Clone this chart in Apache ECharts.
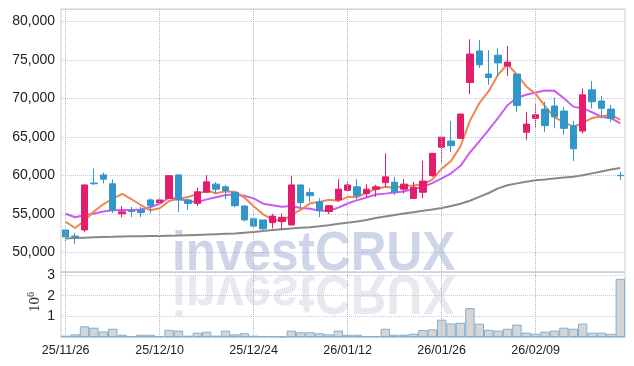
<!DOCTYPE html>
<html><head><meta charset="utf-8">
<script src="https://cdn.jsdelivr.net/npm/echarts@6/dist/echarts.min.js"></script>
<style>html,body{margin:0;padding:0;background:#fff}#c{width:634px;height:366px}</style>
</head><body><div id="c"></div>
<script>
const dates = ['25/11/26','25/11/27','25/11/28','25/12/01','25/12/02','25/12/03','25/12/04','25/12/05','25/12/08','25/12/09',
'25/12/10','25/12/11','25/12/12','25/12/15','25/12/16','25/12/17','25/12/18','25/12/19','25/12/22','25/12/23',
'25/12/24','25/12/26','25/12/29','25/12/30','26/01/02','26/01/05','26/01/06','26/01/07','26/01/08','26/01/09',
'26/01/12','26/01/13','26/01/14','26/01/15','26/01/16','26/01/19','26/01/20','26/01/21','26/01/22','26/01/23',
'26/01/26','26/01/27','26/01/28','26/01/29','26/01/30','26/02/02','26/02/03','26/02/04','26/02/05','26/02/06',
'26/02/09','26/02/10','26/02/11','26/02/12','26/02/13','26/02/19','26/02/20','26/02/23','26/02/24','26/02/25'];
const tickDates = ['25/11/26','25/12/10','25/12/24','26/01/12','26/01/26','26/02/09'];
const opens = [52900,52100,52900,59000,60050,58900,55000,55400,55500,56800,
56450,57000,60050,56800,56350,57800,58850,58500,57800,56000,
54350,54200,53850,54000,53550,58750,57750,56550,55300,56800,
58050,58500,57650,58200,59050,59100,58200,57000,57800,59950,
63650,64450,64800,72050,76150,73150,75600,74200,73150,65600,
67400,68600,69000,68350,66450,65750,71100,69650,68600,60000];
const closes = [52000,52000,58750,58900,59500,55500,55250,55300,55150,56050,
56800,59950,56800,56350,57850,59150,58200,58000,56050,54200,
53400,53050,54700,54550,58750,56450,57350,55500,56050,58200,
58750,57350,58200,58500,59800,57850,58850,58450,59250,62850,
64950,63850,67950,75750,74350,72700,74600,74700,69050,66650,
67850,66450,67600,66100,63450,70450,69550,68700,67400,59950];
const lows = [51400,51050,52600,58750,58950,55100,54550,54550,54550,55050,
56300,56900,55250,55500,56000,57700,57650,56900,55850,54000,
53250,52900,53100,52900,53500,55850,56550,54550,54950,56550,
57900,56900,57200,57200,58500,57450,57650,56950,57000,59800,
61650,63000,64750,70550,73950,71750,72800,72900,68250,64600,
66250,65600,66100,65300,61850,65450,68700,67400,66950,59400];
const highs = [53000,52550,58800,60900,60350,59450,56000,55900,55900,57000,
57000,60000,60050,57000,58400,60000,59100,58750,57850,56150,
54400,54200,55000,55050,59900,58750,58300,57000,56100,59500,
59150,59500,58850,58750,62850,59800,59500,59150,61900,62900,
65000,67050,68000,77650,77550,76250,76500,76800,73150,68250,
69250,69550,70100,68850,67050,71300,72250,70300,69150,60450];
const ma5 = [53970,53150,54100,55300,56230,56930,57580,56890,56140,55450,
55710,56650,56950,57190,57550,58020,57670,57910,57850,57120,
55970,54940,54280,53980,54890,55500,56360,56520,56820,56710,
57170,57170,57710,58200,58520,58340,58640,58690,58840,59450,
60870,61870,63770,67070,69370,70920,73070,74420,73080,71540,
70570,68940,67520,66930,66290,66810,67430,67650,67910,67210];
const ma10 = [55000,54550,54800,55050,55300,55450,55500,55500,55550,55840,
56320,57120,56920,56670,56500,56870,57160,57430,57520,57340,
57000,56310,56100,55920,56010,55740,55650,55400,55400,55800,
56340,56770,57120,57510,57620,57760,57910,58200,58520,58990,
59610,60260,61230,62960,64410,65900,67470,69100,70080,70460,
70750,71010,70970,70010,68920,68690,68190,67590,67420,66750];
const maLong = [51800,51850,51900,51950,52000,52020,52050,52070,52080,52100,
52120,52150,52180,52220,52260,52300,52350,52400,52450,52550,
52650,52750,52880,52980,53080,53180,53260,53380,53520,53700,
53850,54000,54200,54450,54650,54850,55050,55200,55400,55550,
55750,56000,56300,56700,57200,57700,58300,58700,58950,59150,
59350,59450,59600,59700,59820,60000,60250,60500,60750,60950];
const volumes = [0.065,0.13,0.52,0.45,0.27,0.40,0.11,0.05,0.11,0.11,
0.05,0.35,0.31,0.065,0.21,0.26,0.065,0.31,0.13,0.18,
0.065,0.05,0.05,0.02,0.31,0.23,0.23,0.18,0.13,0.31,
0.11,0.11,0.05,0.05,0.40,0.11,0.11,0.16,0.34,0.37,
0.84,0.66,0.69,1.40,0.65,0.35,0.31,0.40,0.60,0.21,
0.16,0.26,0.31,0.45,0.40,0.65,0.21,0.21,0.16,2.82].map(v => v * 1e6);

const UP = '#e31c6b', DOWN = '#3196c9';
const candles = dates.map((d, i) => [opens[i], closes[i], lows[i], highs[i]]);
const LBL = {fontFamily: "'Liberation Sans', Arial, sans-serif", color: '#222'};
const vLines = {silent: true, symbol: ['none', 'none'], label: {show: false},
  lineStyle: {type: 'dotted', color: '#b4b4c4', width: 1}, emphasis: {disabled: true},
  data: tickDates.map(d => ({xAxis: d}))};
const WM_FONT = "bold 55px 'Liberation Sans', sans-serif";
const chart = echarts.init(document.getElementById('c'), null, {renderer: 'canvas'});
chart.setOption({
  animation: false,
  grid: [
    {left: 61, right: 9, top: 9, height: 263, show: true, borderColor: '#cccccc', borderWidth: 1},
    {left: 61, right: 9, top: 272, height: 65, show: true, borderColor: '#cccccc', borderWidth: 1}
  ],
  xAxis: [
    {type: 'category', gridIndex: 0, data: dates, boundaryGap: true,
     axisLine: {show: false}, axisTick: {show: false}, axisLabel: {show: false}, splitLine: {show: false}},
    {type: 'category', gridIndex: 1, data: dates, boundaryGap: true,
     axisLine: {show: true, lineStyle: {color: '#cccccc'}}, axisTick: {show: false},
     axisLabel: Object.assign({interval: 9, fontSize: 12.5, margin: 7}, LBL), splitLine: {show: false}}
  ],
  yAxis: [
    {type: 'value', gridIndex: 0, min: 47440, max: 81600, splitNumber: 5, scale: true,
     axisLine: {show: false}, axisTick: {show: false},
     axisLabel: Object.assign({fontSize: 14, margin: 6, showMinLabel: false, showMaxLabel: false,
       formatter: v => v.toLocaleString('en-US')}, LBL),
     splitLine: {show: true, lineStyle: {type: 'dotted', color: '#c4c8dc', width: 1}}},
    {type: 'value', gridIndex: 1, min: 0, max: 3150000, interval: 1000000,
     axisLine: {show: false}, axisTick: {show: false},
     axisLabel: Object.assign({fontSize: 14, margin: 6, showMinLabel: false, showMaxLabel: false,
       formatter: v => String(Math.round(v / 1e6))}, LBL),
     splitLine: {show: true, lineStyle: {type: 'dotted', color: '#c4c8dc', width: 1}}}
  ],
  graphic: [
    {type: 'text', x: 172, y: 272, z: 1, silent: true, scaleX: 0.9,
     style: {text: 'investCRUX', x: 0, y: 10, verticalAlign: 'bottom', align: 'left',
       font: WM_FONT, fill: 'rgba(160,172,212,0.5)'}},
    {type: 'text', x: 172, y: 274, z: 1, silent: true, scaleX: 0.9, scaleY: -1,
     style: {text: 'investCRUX', x: 0, y: 10, verticalAlign: 'bottom', align: 'left',
       font: WM_FONT, fill: 'rgba(190,192,210,0.35)'}},
    {type: 'text', x: 26, y: 312, rotation: Math.PI / 2, silent: true,
     style: {text: '10{s|6}', font: "15px 'Liberation Serif', serif", fill: '#333',
       rich: {s: {fontSize: 10, fontFamily: 'Liberation Serif', verticalAlign: 'top', padding: [0, 0, 8, 0]}}}}
  ],
  series: [
    {type: 'candlestick', xAxisIndex: 0, yAxisIndex: 0, data: candles, barWidth: 7, z: 3,
     itemStyle: {color: UP, color0: DOWN, borderColor: UP, borderColor0: DOWN, borderWidth: 1}},
    {type: 'line', xAxisIndex: 0, yAxisIndex: 0, data: maLong, symbol: 'none', z: 2,
     lineStyle: {color: '#888888', width: 2}, markLine: vLines},
    {type: 'line', xAxisIndex: 0, yAxisIndex: 0, data: ma10, symbol: 'none', z: 2,
     lineStyle: {color: '#cc5cf0', width: 2}},
    {type: 'line', xAxisIndex: 0, yAxisIndex: 0, data: ma5, symbol: 'none', z: 2,
     lineStyle: {color: '#f0864c', width: 2}},
    {type: 'bar', xAxisIndex: 1, yAxisIndex: 1, data: volumes, barCategoryGap: '0%', z: 3,
     itemStyle: {color: '#d5d5d5', borderColor: '#7fb0d6', borderWidth: 1}, markLine: vLines}
  ]
});
</script></body></html>
